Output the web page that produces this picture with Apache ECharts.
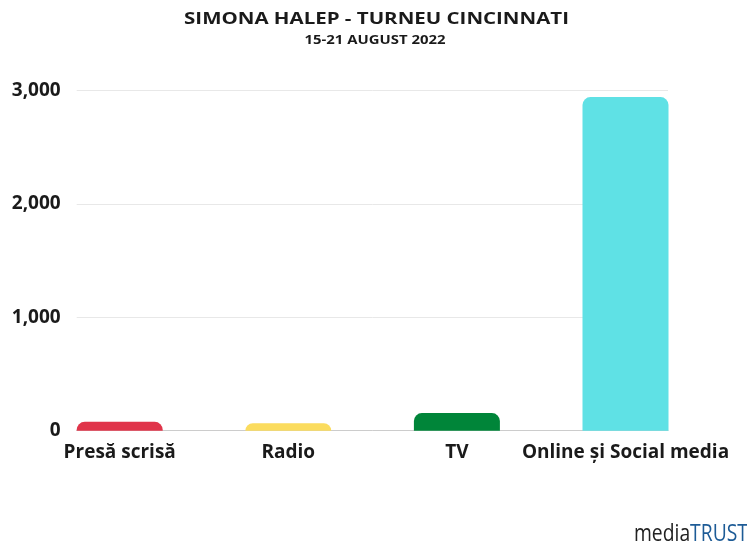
<!DOCTYPE html>
<html>
<head>
<meta charset="utf-8">
<script src="https://cdn.jsdelivr.net/npm/echarts@6/dist/echarts.min.js"></script>
<style>
html,body{margin:0;padding:0;background:#fff;}
#chart{width:747px;height:547px;}
</style>
</head>
<body>
<div id="chart"></div>
<script>
const categories = ['Presă scrisă', 'Radio', 'TV', 'Online și Social media'];
const values = [78, 66, 155, 2940];
const barColors = ['#e0344a', '#fbdc5e', '#008539', '#5fe1e5'];
const yTicks = [0, 1000, 2000, 3000];
const titleText = 'SIMONA HALEP - TURNEU CINCINNATI';
const subtitleText = '15-21 AUGUST 2022';
const logoParts = ['media', 'TRUST'];

const chart = echarts.init(document.getElementById('chart'), null, {renderer: 'canvas'});
const font = '"Open Sans", "Noto Sans", sans-serif';
const yMax = yTicks[yTicks.length - 1];
const yInterval = yTicks[1] - yTicks[0];

chart.setOption({
  animation: false,
  backgroundColor: '#ffffff',
  grid: [
    {left: 35.4, right: 37.2, top: 90.3, bottom: 116.3, containLabel: false},
    {left: 76.7, right: 79, top: 90.3, bottom: 116.3, containLabel: false}
  ],
  xAxis: [
    {
      gridIndex: 0, type: 'category', data: categories,
      axisLine: {show: false}, axisTick: {show: false}, splitLine: {show: false},
      axisLabel: {fontFamily: font, fontSize: 19, fontWeight: 'bold', color: '#1a1a1a', margin: 12, interval: 0}
    },
    {
      gridIndex: 1, type: 'category', data: categories, boundaryGap: false,
      axisLine: {show: true, lineStyle: {color: '#cccccc', width: 1}},
      axisTick: {show: false}, axisLabel: {show: false}, splitLine: {show: false}
    }
  ],
  yAxis: [
    {gridIndex: 0, type: 'value', min: 0, max: yMax, interval: yInterval, show: false},
    {
      gridIndex: 1, type: 'value', min: 0, max: yMax, interval: yInterval,
      axisLine: {show: false}, axisTick: {show: false},
      splitLine: {show: true, lineStyle: {color: '#e8e8e8', width: 1}},
      axisLabel: {
        fontFamily: font, fontSize: 19, fontWeight: 'bold', color: '#1a1a1a', margin: 16,
        padding: [4, 0, 0, 0],
        formatter: v => v.toLocaleString('en-US')
      }
    }
  ],
  series: [{
    type: 'bar', xAxisIndex: 0, yAxisIndex: 0,
    barWidth: 86,
    data: values.map((v, i) => ({value: v, itemStyle: {color: barColors[i], borderRadius: [8, 8, 0, 0]}})),
    z: 3
  }],
  graphic: [
    {
      type: 'text', x: 376.5, y: 19.5, scaleX: 1.28,
      style: {
        text: titleText, align: 'center', verticalAlign: 'middle',
        font: 'bold 16px "Open Sans", "Noto Sans", sans-serif', fill: '#1a1a1a'
      }
    },
    {
      type: 'text', x: 375, y: 41, scaleX: 1.24,
      style: {
        text: subtitleText, align: 'center', verticalAlign: 'middle',
        font: 'bold 12px "Open Sans", "Noto Sans", sans-serif', fill: '#1a1a1a'
      }
    },
    {
      type: 'text', x: 748, y: 534, scaleX: 0.84,
      style: {
        text: '{m|' + logoParts[0] + '}{t|' + logoParts[1] + '}',
        align: 'right', verticalAlign: 'middle',
        rich: {
          m: {font: '23px "Open Sans", "Noto Sans", sans-serif', fill: '#222222'},
          t: {font: '23px "Open Sans", "Noto Sans", sans-serif', fill: '#1d5b96'}
        }
      }
    }
  ]
});
</script>
</body>
</html>
